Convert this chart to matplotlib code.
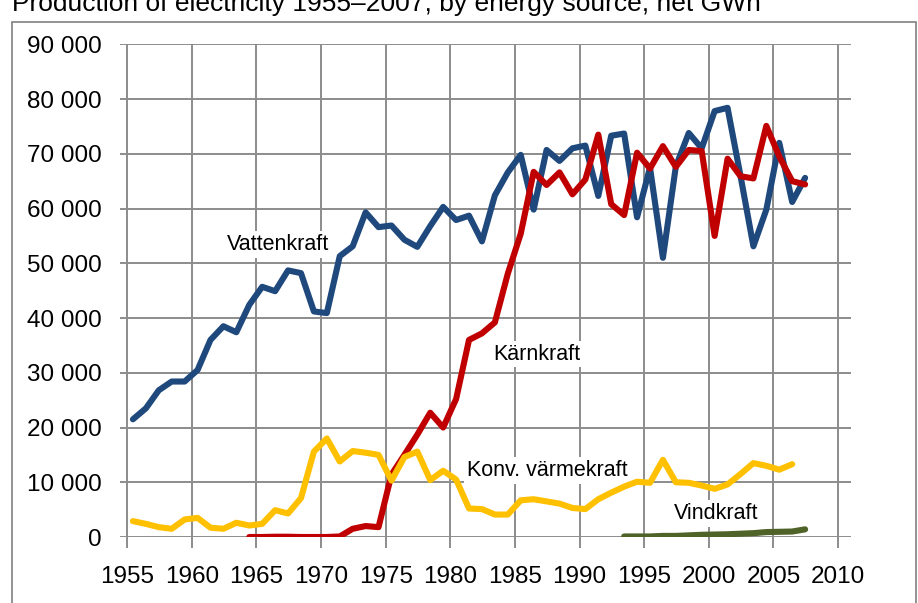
import matplotlib
matplotlib.use("Agg")
from matplotlib import pyplot as plt
from matplotlib.patches import Rectangle
from matplotlib.ticker import FuncFormatter
import numpy as np

# Elproduktion i Sverige 1955-2007, GWh
years_vatten = list(range(1955, 2008))
vatten = [21500, 23500, 26800, 28400, 28400, 30500, 36000, 38500, 37400, 42400,
          45700, 44900, 48700, 48200, 41200, 40900, 51300, 53100, 59300, 56600,
          56900, 54300, 53000, 56800, 60300, 57900, 58700, 54000, 62400, 66600,
          69800, 59800, 70700, 68700, 71000, 71500, 62300, 73300, 73700, 58400,
          67500, 51000, 67700, 73800, 71000, 77800, 78400, 66000, 53100, 59800,
          72000, 61200, 65600]

years_karn = list(range(1964, 2008))
karn = [0, 0, 50, 50, 0, 0, 0, 100, 1500, 2000,
        1800, 11400, 15000, 18700, 22700, 20000, 25200, 36000, 37200, 39200,
        48100, 55400, 66700, 64300, 66600, 62600, 65300, 73500, 60800, 58800,
        70200, 67300, 71400, 67600, 70700, 70500, 55000, 69100, 65900, 65500,
        75100, 69500, 65000, 64400]

years_konv = list(range(1955, 2007))
konv = [2900, 2400, 1800, 1500, 3200, 3500, 1700, 1500, 2600, 2100,
        2400, 4900, 4300, 7100, 15600, 18000, 13800, 15700, 15400, 15000,
        10300, 14600, 15600, 10400, 12100, 10500, 5200, 5100, 4100, 4100,
        6700, 6900, 6500, 6100, 5300, 5100, 6900, 8100, 9200, 10100,
        9900, 14100, 10000, 9900, 9400, 8800, 9600, 11500, 13500, 13000,
        12300, 13300]

years_vind = list(range(1993, 2008))
vind = [100, 100, 100, 200, 200, 300, 400, 450, 500, 600,
        700, 900, 950, 1000, 1400]

xticks = list(range(1955, 2011, 5))
yticks = list(range(0, 90001, 10000))

plt.rcParams["font.family"] = ["Liberation Sans", "DejaVu Sans"]

fig = plt.figure(figsize=(9.18, 6.03), dpi=100)
ax = fig.add_axes([120/918, 66/603, 731/918, 492.7/603])

# punkterna ligger mitt i respektive år
off = 0.45
style = dict(linewidth=4.4, solid_capstyle='round', solid_joinstyle='round', zorder=3)
ax.plot(np.array(years_vatten) + off, vatten, color='#1F497D', **style)
ax.plot(np.array(years_karn) + off, karn, color='#C00000', **style)
ax.plot(np.array(years_konv) + off, konv, color='#FFC000', **style)
ax.plot(np.array(years_vind) + off, vind, color='#4F6228', **style)

ax.set_xlim(1954.45, 2011.0)
ax.set_ylim(0, 90000)
ax.set_xticks(xticks)
ax.set_yticks(yticks)
ax.yaxis.set_major_formatter(FuncFormatter(lambda v, p: f"{int(v):,}".replace(",", " ")))
ax.grid(True, color='#8c8c8c', linewidth=1.4)
ax.set_axisbelow(True)
for s in ax.spines.values():
    s.set_visible(False)
ax.tick_params(axis='x', length=8, width=1.4, color='#8c8c8c', pad=13, labelsize=17.5)
ax.tick_params(axis='y', length=0, pad=13, labelsize=17.5)

box = dict(facecolor='white', edgecolor='none', pad=2)
ax.text(1962.7, 53400, "Vattenkraft", fontsize=15.5, va='center', bbox=box, zorder=2)
ax.text(1983.3, 33400, "Kärnkraft", fontsize=15.5, va='center', bbox=box, zorder=2)
ax.text(1981.3, 12200, "Konv. värmekraft", fontsize=15.5, va='center', bbox=box, zorder=2)
ax.text(1997.3, 4300, "Vindkraft", fontsize=15.5, va='center', bbox=box, zorder=2)

fig.patches.append(Rectangle((12/918, -0.05), 904/918, (603-22)/603 + 0.05,
                             transform=fig.transFigure, fill=False,
                             edgecolor='#808080', linewidth=1.2))
fig.text(12/918, (603-11)/603, "Production of electricity 1955\u20132007, by energy source, net GWh",
         fontsize=19, va='baseline', ha='left')

fig.savefig("out.png", dpi=100)
